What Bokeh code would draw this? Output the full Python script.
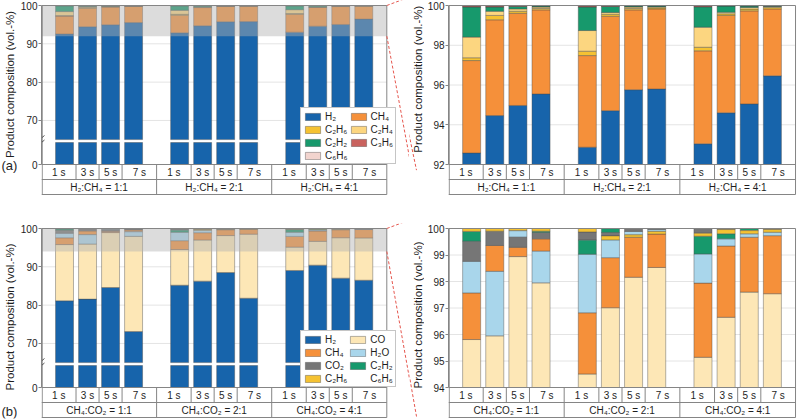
import math
import numpy as np
from bokeh.plotting import figure
from bokeh.layouts import row, column
from bokeh.models import Range1d, FixedTicker, Legend, LegendItem, ColumnDataSource
from bokeh.core.properties import value
from bokeh.embed import file_html
from bokeh.resources import INLINE

FONT = "Liberation Sans"

# ---------------- data ----------------
TIMES = ["1 s", "3 s", "5 s", "7 s"]
GROUPS_A = ["H₂:CH₄ = 1:1", "H₂:CH₄ = 2:1", "H₂:CH₄ = 4:1"]
GROUPS_B = ["CH₄:CO₂ = 1:1", "CH₄:CO₂ = 2:1", "CH₄:CO₂ = 4:1"]
Y_LABEL = "Product composition (vol.-%)"

# panel (a): bars ordered group 1 (1,3,5,7 s), group 2, group 3 ; vol.-%
A_H2 = [92.58, 94.46, 94.97, 95.55, 92.87, 94.71, 95.76, 95.80, 93.04, 94.60, 95.05, 96.46]
A_CH4 = [4.65, 4.82, 4.64, 4.23, 4.61, 4.75, 4.02, 4.03, 4.68, 4.90, 4.68, 3.37]
A_C2H6 = [0.14, 0.22, 0.10, 0.07, 0.22, 0.10, 0.07, 0.05, 0.18, 0.08, 0.09, 0.07]
A_C2H4 = [1.04, 0.21, 0.12, 0.07, 1.04, 0.09, 0.07, 0.05, 1.01, 0.08, 0.08, 0.05]
A_C2H2 = [1.51, 0.21, 0.12, 0.05, 1.18, 0.30, 0.05, 0.04, 1.02, 0.31, 0.07, 0.03]
A_C3H6 = [0.05, 0.05, 0.03, 0.02, 0.05, 0.03, 0.02, 0.02, 0.04, 0.02, 0.02, 0.01]
A_C6H6 = [0.03, 0.03, 0.02, 0.01, 0.03, 0.02, 0.01, 0.01, 0.03, 0.01, 0.01, 0.01]

# panel (b)
B_H2 = [81.13, 81.57, 84.60, 73.10, 85.20, 86.26, 88.50, 81.80, 89.04, 90.43, 87.04, 86.50]
B_CO = [14.68, 14.38, 14.34, 24.85, 9.31, 10.75, 9.66, 16.73, 6.10, 6.22, 10.56, 11.04]
B_CH4 = [1.76, 0.98, 0.35, 0.47, 2.31, 1.89, 1.51, 1.26, 2.80, 2.69, 2.07, 2.19]
B_H2O = [1.19, 2.43, 0.25, 1.19, 2.21, 0.67, 0.13, 0.07, 1.10, 0.27, 0.13, 0.13]
B_CO2 = [0.76, 0.54, 0.38, 0.24, 0.31, 0.13, 0.11, 0.04, 0.18, 0.04, 0.00, 0.04]
B_C2H2 = [0.37, 0.00, 0.00, 0.05, 0.53, 0.15, 0.00, 0.00, 0.67, 0.19, 0.08, 0.00]
B_C2H6 = [0.11, 0.10, 0.08, 0.10, 0.13, 0.15, 0.09, 0.10, 0.11, 0.16, 0.12, 0.10]
B_C6H6 = [0.00, 0.00, 0.00, 0.00, 0.00, 0.00, 0.00, 0.00, 0.00, 0.00, 0.00, 0.00]

SPECIES_A = ["H2", "CH4", "C2H6", "C2H4", "C2H2", "C3H6", "C6H6"]
VALUES_A = {"H2": A_H2, "CH4": A_CH4, "C2H6": A_C2H6, "C2H4": A_C2H4,
            "C2H2": A_C2H2, "C3H6": A_C3H6, "C6H6": A_C6H6}
ORDER_A = [" ".join(SPECIES_A)] * 12

SPECIES_B = ["H2", "CO", "CH4", "H2O", "CO2", "C2H2", "C2H6", "C6H6"]
VALUES_B = {"H2": B_H2, "CO": B_CO, "CH4": B_CH4, "H2O": B_H2O, "CO2": B_CO2,
            "C2H2": B_C2H2, "C2H6": B_C2H6, "C6H6": B_C6H6}
# stacking order (bottom -> top) as drawn in the original, per bar
ORDER_B = [
    "H2 CO CH4 H2O CO2 C2H2 C2H6 C6H6",
    "H2 CO H2O CH4 CO2 C2H2 C2H6 C6H6",
    "H2 CO CH4 CO2 H2O C2H2 C2H6 C6H6",
    "H2 CO H2O CH4 CO2 C2H2 C2H6 C6H6",
    "H2 CO CH4 H2O C2H2 CO2 C2H6 C6H6",
    "H2 CO CH4 H2O C2H6 CO2 C2H2 C6H6",
    "H2 CO CH4 C2H6 H2O CO2 C2H2 C6H6",
    "H2 CO CH4 C2H6 H2O CO2 C2H2 C6H6",
    "H2 CO CH4 H2O C2H2 C2H6 CO2 C6H6",
    "H2 CO CH4 H2O C2H2 C2H6 CO2 C6H6",
    "H2 CO CH4 H2O C2H6 C2H2 CO2 C6H6",
    "H2 CO CH4 H2O C2H6 CO2 C2H2 C6H6",
]

LABELS = {"H2": "H₂", "CH4": "CH₄", "C2H6": "C₂H₆", "C2H4": "C₂H₄", "C2H2": "C₂H₂",
          "C3H6": "C₃H₆", "C6H6": "C₆H₆", "CO": "CO", "H2O": "H₂O", "CO2": "CO₂"}
COLORS = {"H2": "#1764ab", "CH4": "#f5903a", "C2H6": "#f5c232", "C2H4": "#fcd680",
          "C2H2": "#17996c", "C3H6": "#c9625e", "C6H6": "#f2d4ce", "CO": "#fde7b6",
          "H2O": "#a9d6eb", "CO2": "#767676"}

# ---------------- layout constants ----------------
SLOT = 350.0 / 15.0      # px per x unit
FL = 36                  # absolute left edge of the left frames (px)
P_TOP, P_AX, P_ROW, P_TAB, FRAME_H = 5, 164, 179, 194, 195
BAR_W = 0.78
BREAK = 65.0             # axis break (upper segment starts here)
ZERO_POS = 58.5          # coordinate that carries the "0" tick
LINE_C = "#858585"
TXT_C = "#1e1e1e"
DASH_C = "#e5574f"
LAB_L_W, LEFT_W, LAB_R_W = 17, 392, 15          # 17 + 392 = 409 ; 409 + 15 = 424
RIGHT_W = 797 - (LAB_L_W + LEFT_W + LAB_R_W)    # 373
LEFT_END = LAB_L_W + LEFT_W                     # 409
DASH_END = (416, 194)                           # where the lower zoom line ends (px)

XS = [5 * g + 1 + i for g in range(3) for i in range(4)]
EDGES = [[5 * g, 5 * g + 1.5, 5 * g + 2.5, 5 * g + 3.5, 5 * g + 5] for g in range(3)]


def stacks(values, orders):
    bottoms = {s: np.zeros(12) for s in values}
    tops = {s: np.zeros(12) for s in values}
    for j in range(12):
        acc = 0.0
        for s in orders[j].split():
            bottoms[s][j] = acc
            acc += values[s][j]
            tops[s][j] = acc
    return bottoms, tops


def style_axis(p, ticks, lo, overrides=None):
    ax = p.yaxis[0]
    ax.ticker = FixedTicker(ticks=ticks)
    if overrides:
        ax.major_label_overrides = overrides
    ax.bounds = (lo, 100)
    ax.major_label_text_font = FONT
    ax.major_label_text_font_size = "10px"
    ax.major_label_text_color = TXT_C
    ax.major_label_standoff = 1
    ax.major_tick_out = 3
    ax.major_tick_in = 0
    ax.minor_tick_out = 0
    ax.minor_tick_in = 0
    ax.axis_line_color = LINE_C
    ax.major_tick_line_color = LINE_C


def table(p, c, groups):
    yb, yr = c(P_TAB), c(P_ROW)
    p.segment(x0=[0, 0, 0, 0], x1=[15] * 4, y0=[100, c(P_AX), yr, yb], y1=[100, c(P_AX), yr, yb],
              line_color=LINE_C, line_width=1)
    p.segment(x0=[0.03, 15], x1=[0.03, 15], y0=[yb, yb], y1=[100, 100], line_color=LINE_C, line_width=1)
    inner = [e for ed in EDGES for e in ed[1:4]] + [5, 10]
    p.segment(x0=inner, x1=inner, y0=yr, y1=c(P_AX), line_color=LINE_C, line_width=1)
    p.segment(x0=[5, 10], x1=[5, 10], y0=yb, y1=yr, line_color=LINE_C, line_width=1)
    tx = [(ed[i] + ed[i + 1]) / 2 for ed in EDGES for i in range(4)]
    p.text(x=tx, y=c((P_AX + P_ROW) / 2), text=TIMES * 3, text_align="center", text_baseline="middle",
           text_font=value(FONT), text_font_size="10px", text_color=TXT_C)
    gx = [(ed[0] + ed[-1]) / 2 for ed in EDGES]
    p.text(x=gx, y=c((P_ROW + P_TAB) / 2), text=groups, text_align="center", text_baseline="middle",
           text_font=value(FONT), text_font_size="10px", text_color=TXT_C)


def draw_bars(p, species, values, orders, clip_lo):
    bottoms, tops = stacks(values, orders)
    rs = {}
    for sp in species:
        b = np.maximum(bottoms[sp], clip_lo)
        t = np.maximum(tops[sp], clip_lo)
        keep = t > b
        src = ColumnDataSource(dict(x=np.array(XS)[keep], b=b[keep], t=t[keep]))
        rs[sp] = p.vbar(x="x", bottom="b", top="t", width=BAR_W, source=src,
                        fill_color=COLORS[sp], line_color="#4a4a4a", line_width=0.6, line_alpha=0.7)
    return rs


def left_scale():
    return (P_AX - P_TOP) / (100 - ZERO_POS)


def left_panel(species, values, orders, zoom_lo, groups, height, legend_rows):
    s = left_scale()
    c = lambda px: 100 - (px - P_TOP) / s
    border = FL - LAB_L_W
    p = figure(width=LEFT_W, height=height, x_range=Range1d(0, (LEFT_W - border) / SLOT),
               y_range=Range1d(c(FRAME_H), c(0)), min_border_left=border, min_border_right=0,
               min_border_top=0, min_border_bottom=height - FRAME_H, x_axis_location=None,
               toolbar_location=None, output_backend="svg", outline_line_color=None)
    p.xgrid.visible = False
    p.ygrid.visible = False
    gt = [70, 80, 90]
    p.segment(x0=0, x1=15, y0=gt, y1=gt, line_color="#e4e4e4", line_width=1)
    rs = draw_bars(p, species, values, orders, BREAK)
    # lower part of the broken axis (0 ... break) for the bottom species
    p.vbar(x=XS, bottom=ZERO_POS, top=c(142), width=BAR_W, fill_color=COLORS[species[0]],
           line_color="#4a4a4a", line_width=0.6, line_alpha=0.7)
    p.quad(left=0, right=15, bottom=zoom_lo, top=100, fill_color="#b2b2b2", fill_alpha=0.45,
           line_color=None)
    table(p, c, groups)
    # break marks
    for bx in [0, 15]:
        for py in [137.5, 142.0]:
            p.segment(x0=bx - 0.13, x1=bx + 0.13, y0=c(py + 2.5), y1=c(py - 2.5),
                      line_color="#555555", line_width=1)
    # zoom indicator lines
    p.segment(x0=[15, 15], y0=[100, zoom_lo], x1=[(413 - FL) / SLOT, (DASH_END[0] - FL) / SLOT],
              y1=[c(-5), c(DASH_END[1])], line_color=DASH_C, line_dash="3 2", line_width=1)
    style_axis(p, [ZERO_POS, 70, 80, 90, 100], ZERO_POS, {ZERO_POS: "0"})
    items = [LegendItem(label=LABELS[sp], renderers=[rs[sp]]) for sp in legend_rows]
    leg = Legend(items=items, location=(259, 31), orientation="horizontal", ncols=2,
                 glyph_width=19, glyph_height=9, label_height=12, label_width=20,
                 label_standoff=3, spacing=1, padding=2, margin=0,
                 label_text_font=FONT, label_text_font_size="10px", label_text_color=TXT_C,
                 border_line_color="#8c8c8c", border_line_width=1, background_fill_alpha=1.0)
    p.add_layout(leg)
    return p


def label_fig(width, height, x0_abs, ylabel_xy, tag=None, zoom_lo=None):
    """Narrow strip holding the rotated axis title (and panel tag); y in px downwards."""
    p = figure(width=width, height=height, x_range=Range1d(0, width), y_range=Range1d(height, 0),
               min_border=0, x_axis_location=None, y_axis_location=None,
               toolbar_location=None, output_backend="svg", outline_line_color=None)
    p.xgrid.visible = False
    p.ygrid.visible = False
    p.text(x=[ylabel_xy[0]], y=[ylabel_xy[1]], text=[Y_LABEL], angle=math.pi / 2,
           text_align="center", text_baseline="middle", text_font=value(FONT),
           text_font_size="11.5px", text_color=TXT_C)
    if tag:
        p.text(x=[1], y=[189], text=[tag], text_align="left", text_baseline="middle",
               text_font=value(FONT), text_font_size="13px", text_color=TXT_C)
    if zoom_lo is not None:
        y_lo = P_TOP + (100 - zoom_lo) * left_scale()
        p.segment(x0=387 - x0_abs, y0=y_lo, x1=DASH_END[0] - x0_abs, y1=DASH_END[1],
                  line_color=DASH_C, line_dash="3 2", line_width=1)
    return p


def right_panel(species, values, orders, lo, ticks, groups, height):
    s = (P_AX - P_TOP) / (100 - lo)
    c = lambda px: 100 - (px - P_TOP) / s
    border = RIGHT_W - 352
    p = figure(width=RIGHT_W, height=height, x_range=Range1d(0, 352 / SLOT),
               y_range=Range1d(c(FRAME_H), c(0)), min_border_left=border, min_border_right=0,
               min_border_top=0, min_border_bottom=height - FRAME_H, x_axis_location=None,
               toolbar_location=None, output_backend="svg", outline_line_color=None)
    p.xgrid.visible = False
    p.ygrid.visible = False
    p.segment(x0=0, x1=15, y0=ticks[1:-1], y1=ticks[1:-1], line_color="#e4e4e4", line_width=1)
    draw_bars(p, species, values, orders, lo)
    table(p, c, groups)
    style_axis(p, ticks, lo)
    return p


def panel_row(species, values, orders, zoom_lo, ticks_r, groups, tag, height, yl_left, yl_right):
    la = label_fig(LAB_L_W, height, 0, yl_left, tag=tag)
    pl = left_panel(species, values, orders, zoom_lo, groups, height, species)
    lb = label_fig(LAB_R_W, height, LEFT_END, yl_right, zoom_lo=zoom_lo)
    pr = right_panel(species, values, orders, zoom_lo, ticks_r, groups, height)
    return row(la, pl, lb, pr)


row_a = panel_row(SPECIES_A, VALUES_A, ORDER_A, 92, [92, 94, 96, 98, 100], GROUPS_A, "(a)", 223,
                  (9.5, 96), (8, 90))
row_b = panel_row(SPECIES_B, VALUES_B, ORDER_B, 94, [94, 95, 96, 97, 98, 99, 100], GROUPS_B, "(b)", 196,
                  (9.5, 94), (8, 92))

layout = column(row_a, row_b)
open("out.html", "w").write(file_html(layout, INLINE))
